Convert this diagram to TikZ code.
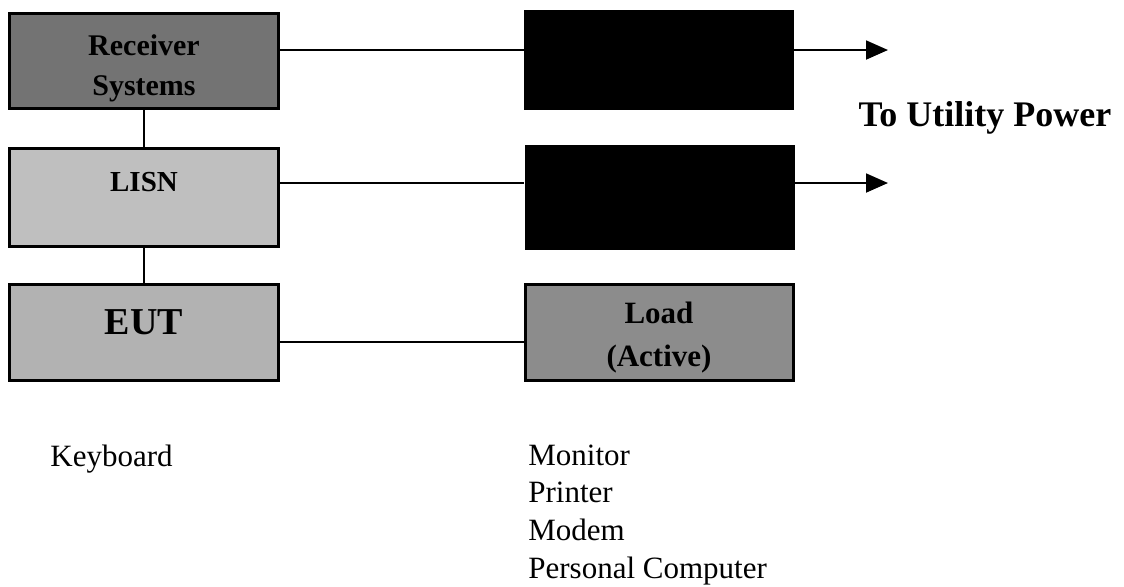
\documentclass[tikz,border=0pt]{standalone}
\usepackage{fontspec}
\setmainfont{Liberation Serif}
\usetikzlibrary{arrows.meta,positioning}

\tikzset{
  caja/.style={draw, line width=1.5pt, inner sep=0pt,
               minimum width=134.5pt, minimum height=48pt},
  rotulo/.style={align=center, inner sep=0pt, font=\bfseries\fontsize{15}{20}\selectfont},
  bloque/.style={fill=black, inner sep=0pt, minimum width=135pt},
  linea/.style={line width=0.8pt},
  salida/.style={line width=0.9pt, -{Triangle[length=11pt,width=9.5pt]}},
  nota/.style={inner sep=0pt, align=left, font=\fontsize{15.5}{18.8}\selectfont}
}

\begin{document}
\begin{tikzpicture}[x=0.5pt, y=-0.5pt]
    \useasboundingbox (0,0) rectangle (1124,586);

    % Columna izquierda
    \node[caja, fill=black!55, minimum height=47.5pt] (rcv) at (144,61) {};
    \node[caja, fill=black!25, minimum height=49pt] (lisn) at (144,197.5) {};
    \node[caja, fill=black!30] (eut) at (144,332.5) {};
    \node[rotulo] (rcvtxt) at ([yshift=-3.5pt]rcv.center) {Receiver\\Systems};
    \node[rotulo, font=\bfseries\fontsize{14.5}{17}\selectfont] (lisntxt)
         at ([yshift=-17.5pt]lisn.north) {LISN};
    \node[rotulo, font=\bfseries\fontsize{19}{22}\selectfont] (euttxt)
         at ([yshift=5pt]eut.center) {EUT};

    % Columna derecha
    \node[bloque, minimum height=50pt] (blk1) at (659,60) {};
    \node[bloque, minimum height=52.5pt] (blk2) at (659.5,197.5) {};
    \node[caja, fill=black!45, minimum width=134pt] (load) at (659,332) {};
    \node[rotulo, font=\bfseries\fontsize{15.5}{21.5}\selectfont] (loadtxt)
         at ([yshift=-3pt]load.center) {Load\\(Active)};

    % Uniones
    \coordinate (out1) at (888,50);
    \coordinate (out2) at (888,183);
    \coordinate (link) at (400,342);
    \draw[linea] (rcv.south) -- (lisn.north);
    \draw[linea] (lisn.south) -- (eut.north);
    \draw[linea] (rcv.east |- out1) -- (blk1.west |- out1);
    \draw[linea] (lisn.east |- out2) -- (blk2.west |- out2);
    \draw[linea] (eut.east |- link) -- (load.west |- link);
    \draw[salida] (blk1.east |- out1) -- (out1);
    \draw[salida] (blk2.east |- out2) -- (out2);

    % Etiquetas
    \node[font=\bfseries\fontsize{18}{21}\selectfont] (util) at (985,118)
         {To Utility Power};
    \node[nota, anchor=base west] (kbd) at (50,466) {Keyboard};
    \node[nota, anchor=base west] (devs) at (528,578)
         {Monitor\\Printer\\Modem\\Personal Computer};
\end{tikzpicture}
\end{document}
